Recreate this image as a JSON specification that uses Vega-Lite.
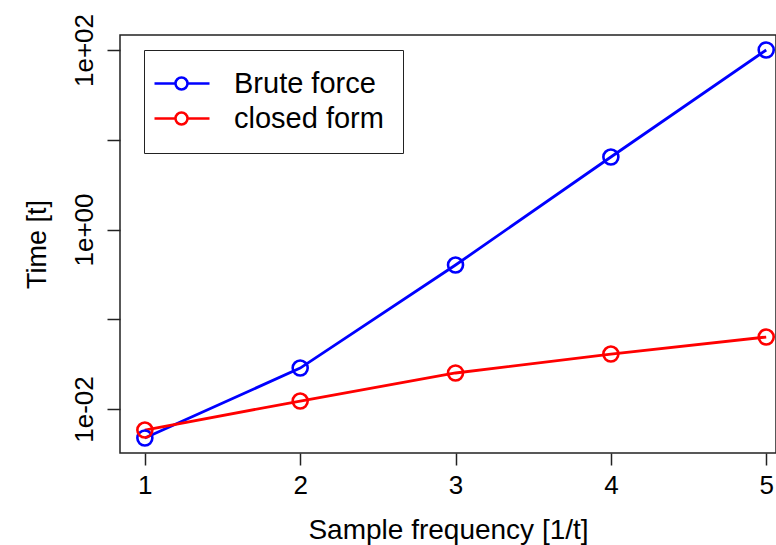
{
  "$schema": "https://vega.github.io/schema/vega-lite/v6.json",
  "autosize": {"type": "none"},
  "padding": {"left": 120, "top": 35, "right": 0, "bottom": 92},
  "width": 656,
  "height": 418,
  "background": "white",
  "config": {
    "font": "Liberation Sans",
    "view": {"stroke": "#222", "strokeWidth": 1.5},
    "axis": {"grid": false, "domain": false, "tickColor": "#222", "tickWidth": 1.5, "labelColor": "black", "titleColor": "black", "labelFontWeight": "normal", "titleFontWeight": "normal", "labelFont": "Liberation Sans", "titleFont": "Liberation Sans"}
  },
  "data": {
    "values": [
      {"f": 1, "t": 0.00475, "method": "Brute force"},
      {"f": 2, "t": 0.0286, "method": "Brute force"},
      {"f": 3, "t": 0.402, "method": "Brute force"},
      {"f": 4, "t": 6.42, "method": "Brute force"},
      {"f": 5, "t": 100, "method": "Brute force"},
      {"f": 1, "t": 0.00583, "method": "closed form"},
      {"f": 2, "t": 0.01228, "method": "closed form"},
      {"f": 3, "t": 0.0252, "method": "closed form"},
      {"f": 4, "t": 0.041, "method": "closed form"},
      {"f": 5, "t": 0.0634, "method": "closed form"}
    ]
  },
  "mark": {"type": "line", "strokeWidth": 2.8, "point": {"filled": false, "size": 225, "strokeWidth": 2.6}},
  "encoding": {
    "x": {
      "field": "f", "type": "quantitative",
      "scale": {"domain": [0.84, 5.063], "nice": false, "zero": false},
      "axis": {"values": [1, 2, 3, 4, 5], "format": "d", "labelFlush": false, "tickSize": 12, "labelPadding": 7, "labelFontSize": 26, "title": "Sample frequency [1/t]", "titleFontSize": 28, "titleY": 85, "titleBaseline": "alphabetic"}
    },
    "y": {
      "field": "t", "type": "quantitative",
      "scale": {"type": "log", "domain": [0.003236, 146.9], "nice": false},
      "axis": {"values": [0.01, 0.1, 1, 10, 100], "labelExpr": "datum.value == 0.01 ? '1e-02' : datum.value == 1 ? '1e+00' : datum.value == 100 ? '1e+02' : ''", "tickSize": 13, "labelPadding": 10, "labelAngle": 270, "labelAlign": "center", "labelBaseline": "bottom", "labelFontSize": 26, "title": "Time [t]", "titleFontSize": 27, "titleAngle": 270, "titleX": -83, "titleY": 209, "titleAlign": "center", "titleBaseline": "middle"}
    },
    "color": {
      "field": "method", "type": "nominal",
      "scale": {"domain": ["Brute force", "closed form"], "range": ["#0000FF", "#FF0000"]},
      "legend": {"orient": "none", "legendX": 24, "legendY": 15, "title": null, "strokeColor": "#222", "padding": 19, "symbolType": "M-2.3,0H-0.2M1,0H3.2M-0.2,0A0.6,0.6 0 1,1 1,0A0.6,0.6 0 1,1 -0.2,0", "symbolSize": 400, "symbolStrokeWidth": 2.5, "symbolFillColor": "transparent", "labelFontSize": 29, "labelOffset": 42, "rowPadding": 5, "labelColor": "black", "labelFont": "Liberation Sans"}
    }
  }
}
